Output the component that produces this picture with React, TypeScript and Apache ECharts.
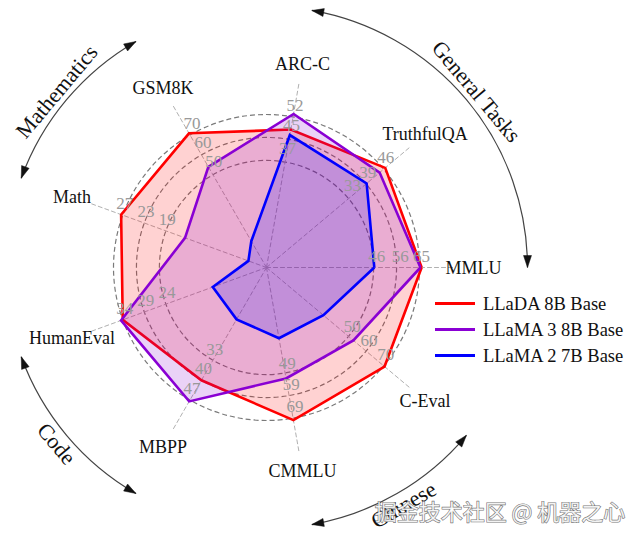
import React, { useEffect, useRef } from 'react';
import * as echarts from 'echarts';

// Indicators in counter-clockwise order starting from the right (0°)
const indicators = ['MMLU', 'TruthfulQA', 'ARC-C', 'GSM8K', 'Math', 'HumanEval', 'MBPP', 'CMMLU', 'C-Eval'];
const outerTicks = [65, 46, 52, 70, 27, 34, 47, 69, 70];
const middleTicks = [56, 39, 45, 60, 23, 29, 40, 59, 60];
const innerTicks = [46, 33, 37, 50, 19, 24, 33, 49, 50];

const seriesNames = ['LLaDA 8B Base', 'LLaMA 3 8B Base', 'LLaMA 2 7B Base'];
const lladaValues = [65.9, 46.6, 47.6, 70.9, 27.3, 34.0, 40.0, 69.9, 70.5];
const llama3Values = [65.4, 44.4, 53.0, 53.2, 15.3, 34.4, 47.5, 50.8, 51.9];
const llama2Values = [45.8, 39.3, 45.7, 13.9, 3.4, 12.7, 18.4, 32.4, 34.0];

const groupNames = ['General Tasks', 'Mathematics', 'Code', 'Chinese'];
const groupFirst = [0, 3, 5, 7];
const groupLast = [2, 4, 6, 8];

const lineColors = ['#ff0000', '#8a00d4', '#0000ff'];
const fillColors = ['rgba(255,0,0,0.25)', 'rgba(138,0,212,0.25)', 'rgba(0,0,255,0.24)'];

const CX = 266.5;
const CY = 267.5;
const R = 153;
const AXIS_R = 188;
const ARC_R = 261;
const TEXT_R = 274;
const SERIF = '"Liberation Serif", "Times New Roman", serif';

export default function App() {
  const ref = useRef<HTMLDivElement>(null);
  useEffect(() => {
    const chart = echarts.init(ref.current!, null, { renderer: 'svg' });
    const n = indicators.length;
    const angleOf = (i: number) => (360 / n) * i;
    const rad = (d: number) => (d * Math.PI) / 180;
    const pt = (deg: number, r: number) => [CX + r * Math.cos(rad(deg)), CY - r * Math.sin(rad(deg))];

    const ringColors = Array.from({ length: 21 }, (_, i) =>
      i === 14 || i === 17 || i === 20 ? '#7a7a7a' : 'rgba(0,0,0,0)'
    );
    const indicatorDefs = indicators.map((name, i) => ({ name, min: 0, max: outerTicks[i] }));

    const graphics: any[] = [];
    groupNames.forEach((g, k) => {
      const a1 = angleOf(groupFirst[k]);
      const a2 = angleOf(groupLast[k]);
      graphics.push({
        type: 'arc',
        shape: { cx: CX, cy: CY, r: ARC_R, startAngle: -rad(a2), endAngle: -rad(a1), clockwise: true },
        style: { stroke: '#444', lineWidth: 1.2, fill: 'none' },
      });
      const arrow = (deg: number, sign: number) => {
        const [px, py] = pt(deg, ARC_R);
        const dx = sign * -Math.sin(rad(deg));
        const dy = sign * -Math.cos(rad(deg));
        const L = 12, W = 4;
        const bx = px - L * dx, by = py - L * dy;
        return {
          type: 'polygon',
          shape: { points: [[px, py], [bx - W * dy, by + W * dx], [bx + W * dy, by - W * dx]] },
          style: { fill: '#111', stroke: '#111', lineWidth: 0.5 },
        };
      };
      graphics.push(arrow(a2, 1));
      graphics.push(arrow(a1, -1));
      const mid = (a1 + a2) / 2;
      const [tx, ty] = pt(mid, TEXT_R);
      const rot = Math.sin(rad(mid)) >= 0 ? mid - 90 : mid + 90;
      graphics.push({
        type: 'text',
        x: tx,
        y: ty,
        rotation: rad(rot),
        style: {
          text: g,
          fontSize: 22,
          fontFamily: SERIF,
          fill: '#111',
          align: 'center',
          verticalAlign: 'middle',
          textAlign: 'center',
          textVerticalAlign: 'middle',
        },
      });
    });
    graphics.push({
      type: 'text',
      x: 500,
      y: 510,
      z: 100,
      style: {
        text: '掘金技术社区 @ 机器之心',
        fontSize: 22,
        fontFamily: '"Noto Sans CJK SC", sans-serif',
        fill: 'rgba(255,255,255,0.85)',
        stroke: 'rgba(70,70,70,0.75)',
        lineWidth: 1.2,
        align: 'center',
        verticalAlign: 'middle',
        textAlign: 'center',
        textVerticalAlign: 'middle',
      },
    });

    const modelValues = [lladaValues, llama3Values, llama2Values];

    chart.setOption({
      animation: false,
      backgroundColor: '#ffffff',
      legend: {
        orient: 'vertical',
        left: 430,
        top: 289,
        icon: 'rect',
        itemWidth: 40,
        itemHeight: 3,
        itemGap: 7,
        selectedMode: false,
        textStyle: { fontFamily: SERIF, fontSize: 18.5, color: '#111', padding: [0, 0, 0, 3] },
        data: seriesNames.map((name, i) => ({ name, itemStyle: { color: lineColors[i], borderWidth: 0 } })),
      },
      radar: [
        {
          center: [CX, CY],
          radius: AXIS_R,
          startAngle: 0,
          shape: 'circle',
          splitNumber: 1,
          indicator: indicatorDefs,
          nameGap: 19,
          axisName: {
            color: '#111',
            fontSize: 18,
            fontFamily: SERIF,
            align: 'center',
            verticalAlign: 'middle',
          },
          axisLine: { lineStyle: { color: '#b0b0b0', type: [4, 3], width: 1 } },
          splitLine: { show: false },
          splitArea: { show: false },
          axisTick: { show: false },
          axisLabel: { show: false },
        },
        {
          center: [CX, CY],
          radius: R,
          startAngle: 0,
          shape: 'circle',
          splitNumber: 20,
          indicator: indicatorDefs,
          axisName: { show: false },
          axisLine: { show: false },
          splitLine: { lineStyle: { color: ringColors, type: [5, 3], width: 1.2 } },
          splitArea: { show: false },
          axisTick: { show: false },
          axisLabel: { show: false },
        },
      ],
      series: [
        {
          type: 'radar',
          radarIndex: 1,
          symbol: 'none',
          z: 3,
          data: seriesNames.map((name, i) => ({
            name,
            value: modelValues[i],
            lineStyle: { color: lineColors[i], width: 2.6, join: 'miter' },
            itemStyle: { color: lineColors[i] },
            areaStyle: { color: fillColors[i] },
          })),
        },
        {
          type: 'radar',
          radarIndex: 1,
          z: 5,
          silent: true,
          symbol: 'circle',
          symbolSize: 2,
          itemStyle: { color: 'rgba(0,0,0,0)', borderWidth: 0 },
          lineStyle: { opacity: 0, width: 0 },
          label: {
            show: true,
            position: 'top',
            distance: 0,
            offset: [2, -2],
            color: '#999999',
            fontSize: 17,
            fontFamily: SERIF,
          },
          data: [
            { name: 'inner ticks', value: innerTicks },
            { name: 'middle ticks', value: middleTicks },
            { name: 'outer ticks', value: outerTicks },
          ],
        },
      ],
      graphic: graphics,
    });
    return () => chart.dispose();
  }, []);
  return (
    <div
      ref={ref}
      style={{ position: 'fixed', left: 0, top: 0, width: 642, height: 536, background: '#fff' }}
    />
  );
}
